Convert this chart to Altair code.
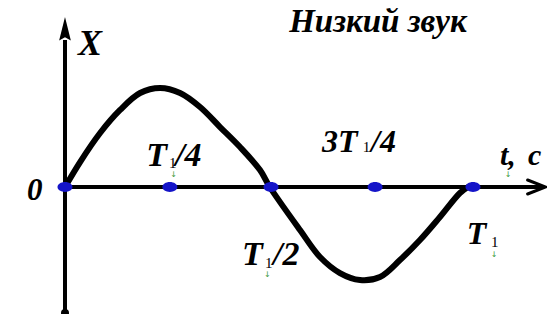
import altair as alt
import pandas as pd

# Curve: time in units of T1, displacement in units of the amplitude
curve_t = [0, 0.037, 0.086, 0.135, 0.184, 0.233, 0.282, 0.331, 0.380, 0.429, 0.478, 0.502,
           0.576, 0.625, 0.674, 0.723, 0.772, 0.821, 0.870, 0.919, 0.968, 0.988]
curve_x = [0, 0.255, 0.551, 0.786, 0.959, 1.010, 0.959, 0.816, 0.612, 0.408, 0.173, 0,
           -0.439, -0.714, -0.878, -0.949, -0.918, -0.745, -0.541, -0.306, -0.061, 0]

# Marked points on the time axis (0, T1/4, T1/2, 3T1/4, T1)
dot_t = [0, 0.257, 0.505, 0.760, 1.0]
dot_x = [0, 0, 0, 0, 0]

# Large bold-italic labels (position in t / displacement units)
big_text = ["Низкий звук", "X", "0", "T", "/4", "3T", "/4", "t,", "c", "T", "/2", "T"]
big_t = [0.767, 0.032, -0.093, 0.199, 0.270, 0.630, 0.750, 1.066, 1.135, 0.434, 0.510, 0.985]
big_v = [1.582, 1.347, -0.133, 0.214, 0.214, 0.357, 0.357, 0.224, 0.224, -0.796, -0.796, -0.582]
big_fs = [33, 36, 31, 34, 34, 32, 32, 30, 30, 34, 34, 32]
big_align = ["center"] + ["left"] * 11

# Subscripts "1"
sub_t = [0.255, 0.730, 0.490, 1.044]
sub_v = [0.194, 0.357, -0.827, -0.612]
sub_fs = [15, 15, 15, 15]

# little green marks under the subscripts
mark_t = [0.266, 0.496, 1.086, 1.052]
mark_v = [0.12, -0.90, 0.12, -0.69]

# axes extents
t_dom = [-0.1397, 1.1814]
v_dom = [-1.2959, 1.8265]
yaxis_t = [0, 0]
yaxis_v = [-1.286, 1.50]
xaxis_t = [0, 1.172]
xaxis_v = [0, 0]
arrow_up = {"t": 0.0, "v": 1.602}
arrow_right = {"t": 1.178, "v": 0.0}
axis_end = {"t": 0.0, "v": -1.286}

SERIF = "Liberation Serif"

X = lambda: alt.X("t:Q", scale=alt.Scale(domain=t_dom), axis=None)
Y = lambda: alt.Y("v:Q", scale=alt.Scale(domain=v_dom), axis=None)

yaxis = alt.Chart(pd.DataFrame({"t": yaxis_t, "v": yaxis_v})).mark_line(
    color="black", strokeWidth=4).encode(x=X(), y=Y())
xaxis = alt.Chart(pd.DataFrame({"t": xaxis_t, "v": xaxis_v})).mark_line(
    color="black", strokeWidth=4).encode(x=X(), y=Y())

up = alt.Chart(pd.DataFrame([arrow_up])).mark_point(
    shape="M0,-1 L0.45,0.8 L0,0.55 L-0.45,0.8 Z", filled=True, color="black",
    size=676, opacity=1).encode(x=X(), y=Y())
right = alt.Chart(pd.DataFrame([arrow_right])).mark_point(
    shape="M-1,-0.39 L0,0 L-1,0.39", filled=False, color="black", strokeWidth=3,
    size=1296, opacity=1, strokeCap="round", strokeJoin="miter").encode(x=X(), y=Y())
end = alt.Chart(pd.DataFrame([axis_end])).mark_point(
    shape="circle", filled=True, color="black", size=64, opacity=1).encode(x=X(), y=Y())

curve = alt.Chart(pd.DataFrame({"t": curve_t, "v": curve_x})).mark_line(
    color="black", strokeWidth=6, interpolate="catmull-rom", strokeCap="round").encode(x=X(), y=Y())

dots = alt.Chart(pd.DataFrame({"t": dot_t, "v": dot_x})).mark_point(
    shape="M-1,0 A1,0.66 0 1,1 1,0 A1,0.66 0 1,1 -1,0 Z", filled=True, color="#1414c8",
    size=225, opacity=1).encode(x=X(), y=Y())

text_layers = []
for txt, tt, vv, fs, al in zip(big_text, big_t, big_v, big_fs, big_align):
    text_layers.append(
        alt.Chart(pd.DataFrame({"t": [tt], "v": [vv], "txt": [txt]})).mark_text(
            font=SERIF, fontWeight="bold", fontStyle="italic", fontSize=fs, align=al,
            color="black").encode(x=X(), y=Y(), text="txt:N"))

for tt, vv, fs in zip(sub_t, sub_v, sub_fs):
    text_layers.append(
        alt.Chart(pd.DataFrame({"t": [tt], "v": [vv], "txt": ["1"]})).mark_text(
            font=SERIF, fontSize=fs, align="left", color="black").encode(
            x=X(), y=Y(), text="txt:N"))

green = alt.Chart(pd.DataFrame({"t": mark_t, "v": mark_v, "txt": ["↓"] * len(mark_t)})).mark_text(
    font="DejaVu Sans", fontSize=8, align="center", baseline="middle", color="#3c9a3c").encode(
    x=X(), y=Y(), text="txt:N")

chart = alt.layer(yaxis, xaxis, up, right, end, curve, dots, *text_layers, green).properties(
    width=539, height=306, padding=0, autosize=alt.AutoSizeParams(type="none"),
    background="white"
).configure_view(stroke=None).configure_text(baseline="alphabetic")

chart.save("out.html", embed_options={"renderer": "svg", "actions": False})
